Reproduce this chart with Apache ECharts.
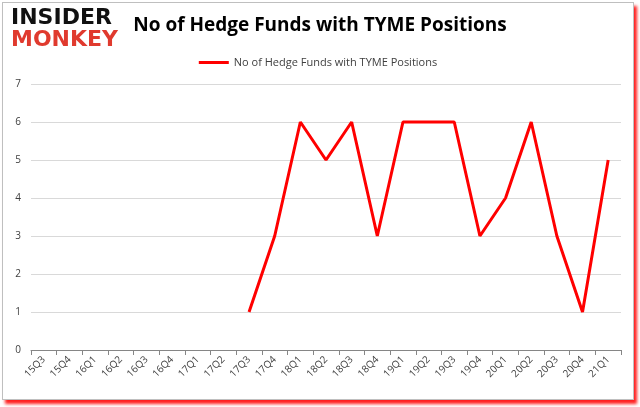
<!DOCTYPE html>
<html>
<head>
    <meta charset="utf-8">
    <title>TYME hedge funds</title>
    <script src="https://cdn.jsdelivr.net/npm/echarts@6/dist/echarts.min.js"></script>
    <style>
        body { margin: 0; background: #fff; }
        #main { position: absolute; left: 2px; top: 2px; width: 630px; height: 396px;
                border: 1px solid #bfbfbf; box-shadow: 3px 4px 3px #ff2020; }
    </style>
</head>
<body>
    <div id="main"></div>
    <script type="text/javascript">
        // quarters on the x axis
        var quarters = ['15Q3','15Q4','16Q1','16Q2','16Q3','16Q4','17Q1','17Q2','17Q3','17Q4',
                        '18Q1','18Q2','18Q3','18Q4','19Q1','19Q2','19Q3','19Q4','20Q1','20Q2',
                        '20Q3','20Q4','21Q1'];
        // number of hedge funds holding TYME (no data before 17Q3)
        var funds = [null,null,null,null,null,null,null,null,1,3,
                     6,5,6,3,6,6,6,3,4,6,
                     3,1,5];
        var seriesName = 'No of Hedge Funds with TYME Positions';

        var myChart = echarts.init(document.getElementById('main'));
        myChart.setOption({
            animation: false,
            title: {
                text: 'No of Hedge Funds with TYME Positions',
                left: 312, top: 8, textAlign: 'center',
                textStyle: { fontFamily: 'Open Sans', fontSize: 19, fontWeight: 'bold', color: '#000' }
            },
            graphic: [
                { type: 'text', left: 8, top: 4,
                  style: { text: 'INSIDER', fontFamily: 'DejaVu Sans', fontSize: 22, fontWeight: 'bold', fill: '#111' } },
                { type: 'text', left: 8, top: 26,
                  style: { text: 'MONKEY', fontFamily: 'DejaVu Sans', fontSize: 22, fontWeight: 'bold', fill: '#e03a2e' } }
            ],
            legend: {
                data: [seriesName],
                top: 49, left: 'center',
                itemWidth: 30, itemHeight: 3, itemGap: 2,
                icon: 'rect',
                textStyle: { fontFamily: 'Open Sans', fontSize: 11, color: '#404040' }
            },
            grid: { left: 28, right: 12, top: 81, bottom: 49 },
            xAxis: {
                type: 'category',
                data: quarters,
                boundaryGap: true,
                axisLine: { lineStyle: { color: '#868686' } },
                axisTick: { show: true, alignWithLabel: false, lineStyle: { color: '#868686' } },
                axisLabel: { rotate: 45, fontFamily: 'Open Sans', fontSize: 10, color: '#404040', interval: 0, margin: 8 }
            },
            yAxis: {
                type: 'value',
                min: 0, max: 7, interval: 1,
                axisLine: { show: false },
                axisTick: { show: false },
                splitLine: { lineStyle: { color: '#d9d9d9' } },
                axisLabel: { fontFamily: 'Open Sans', fontSize: 10, color: '#404040', margin: 10 }
            },
            series: [{
                name: seriesName,
                type: 'line',
                data: funds,
                symbol: 'none',
                lineStyle: { color: '#ff0000', width: 3 },
                itemStyle: { color: '#ff0000' }
            }]
        });
    </script>
</body>
</html>
